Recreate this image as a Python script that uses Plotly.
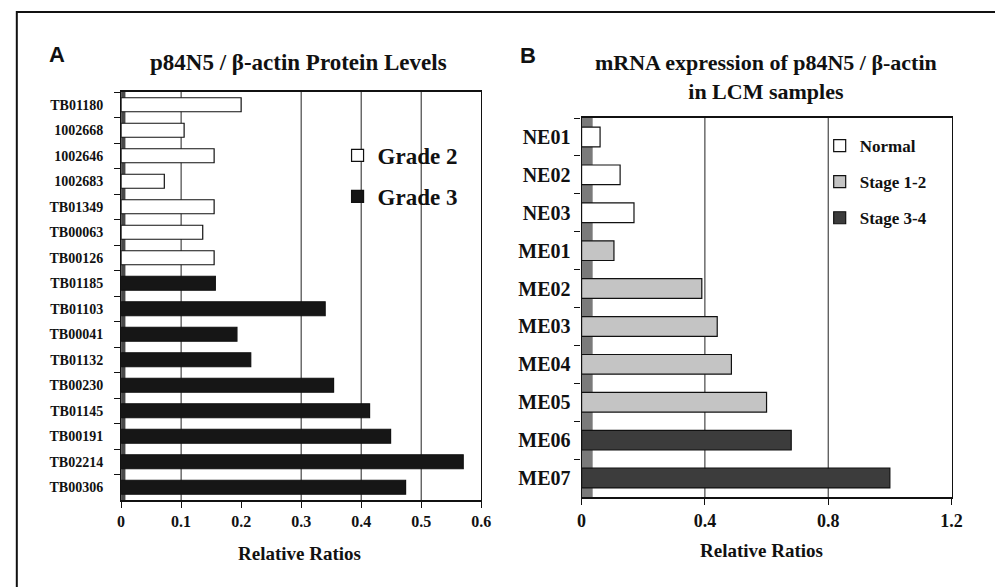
import plotly.graph_objects as go

# ---------------- data ----------------
a_samples = ["TB01180", "1002668", "1002646", "1002683", "TB01349", "TB00063", "TB00126",
             "TB01185", "TB01103", "TB00041", "TB01132", "TB00230", "TB01145", "TB00191",
             "TB02214", "TB00306"]
a_values = [0.20, 0.105, 0.155, 0.072, 0.155, 0.136, 0.155,
            0.157, 0.34, 0.193, 0.216, 0.354, 0.414, 0.449, 0.57, 0.474]
a_groups = ["Grade 2"] * 7 + ["Grade 3"] * 9
a_group_names = ["Grade 2", "Grade 3"]
a_ticks = [0, 0.1, 0.2, 0.3, 0.4, 0.5, 0.6]
a_ticktext = ["0", "0.1", "0.2", "0.3", "0.4", "0.5", "0.6"]
a_grid = [0.1, 0.3, 0.4, 0.5]

b_samples = ["NE01", "NE02", "NE03", "ME01", "ME02", "ME03", "ME04", "ME05", "ME06", "ME07"]
b_values = [0.06, 0.125, 0.17, 0.105, 0.39, 0.44, 0.486, 0.60, 0.68, 1.00]
b_groups = ["Normal"] * 3 + ["Stage 1-2"] * 5 + ["Stage 3-4"] * 2
b_group_names = ["Normal", "Stage 1-2", "Stage 3-4"]
b_ticks = [0, 0.4, 0.8, 1.2]
b_ticktext = ["0", "0.4", "0.8", "1.2"]
b_grid = [0.4, 0.8]

# ---------------- style ----------------
W, H = 995, 587
SERIF = "Liberation Serif, Times New Roman, serif"
SANS = "Liberation Sans, Arial, sans-serif"
INK = "#111111"
a_colors = {"Grade 2": "#ffffff", "Grade 3": "#161616"}
b_colors = {"Normal": "#ffffff", "Stage 1-2": "#c4c4c4", "Stage 3-4": "#3c3c3c"}


def px_x(p):
    return p / W


def px_y(p):
    return 1 - p / H


fig = go.Figure()

for g in a_group_names:
    ys = [s for s, gg in zip(a_samples, a_groups) if gg == g]
    xs = [v for v, gg in zip(a_values, a_groups) if gg == g]
    fig.add_trace(go.Bar(
        x=xs, y=ys, orientation="h", name=g, xaxis="x", yaxis="y",
        width=0.55, legend="legend", legendgroup=g,
        marker=dict(color=a_colors[g], line=dict(color=INK, width=1.2)),
    ))

for g in b_group_names:
    ys = [s for s, gg in zip(b_samples, b_groups) if gg == g]
    xs = [v for v, gg in zip(b_values, b_groups) if gg == g]
    fig.add_trace(go.Bar(
        x=xs, y=ys, orientation="h", name=g, xaxis="x2", yaxis="y2",
        width=0.52, legend="legend2", legendgroup=g,
        marker=dict(color=b_colors[g], line=dict(color=INK, width=1.2)),
    ))

shapes = []
# outer frame (only left/top visible in the reference)
shapes.append(dict(type="rect", xref="paper", yref="paper",
                   x0=px_x(12), x1=1.05, y0=-0.05, y1=px_y(12),
                   line=dict(color=INK, width=2), fillcolor="rgba(0,0,0,0)", layer="below"))
# gridlines
for v in a_grid:
    shapes.append(dict(type="line", xref="x", yref="y domain", x0=v, x1=v, y0=0, y1=1,
                       line=dict(color="#222222", width=1), layer="below"))
for v in b_grid:
    shapes.append(dict(type="line", xref="x2", yref="y2 domain", x0=v, x1=v, y0=0, y1=1,
                       line=dict(color="#222222", width=1), layer="below"))
# side walls (3D look)
shapes.append(dict(type="rect", xref="x domain", yref="y domain", x0=0, x1=0.012, y0=0, y1=1,
                   fillcolor="#4a4a4a", line=dict(width=0), layer="below"))
shapes.append(dict(type="rect", xref="x2 domain", yref="y2 domain", x0=0, x1=0.03, y0=0, y1=1,
                   fillcolor="#7a7a7a", line=dict(width=0), layer="below"))


def ann(text, x, y, family, size, bold=False):
    return dict(text=text, x=px_x(x), y=px_y(y), xref="paper", yref="paper",
                xanchor="center", yanchor="middle", showarrow=False,
                font=dict(family=family, size=size, color=INK,
                          weight="bold" if bold else "normal"))


annotations = [
    ann("A", 53, 55, SANS, 22, True),
    ann("B", 532, 56, SANS, 22, True),
    ann("p84N5 / β-actin Protein Levels", 298, 63, SERIF, 23, True),
    ann("mRNA expression of p84N5 / β-actin<br>in LCM samples", 773, 77, SERIF, 22, True),
    ann("Relative Ratios", 299, 553, SERIF, 19, True),
    ann("Relative Ratios", 769, 550, SERIF, 19, True),
]

axis_common = dict(showline=True, linecolor=INK, mirror=True, zeroline=False,
                   showgrid=False, ticks="outside", tickcolor=INK)

fig.update_layout(
    width=W, height=H,
    margin=dict(l=0, r=0, t=0, b=0),
    paper_bgcolor="white", plot_bgcolor="white",
    barmode="overlay",
    shapes=shapes, annotations=annotations,
    xaxis=dict(domain=[px_x(118), px_x(484)], range=[0, 0.6], anchor="y",
               tickvals=a_ticks, ticktext=a_ticktext,
               ticklen=6, linewidth=2,
               tickfont=dict(family=SERIF, size=16, color=INK, weight="bold"),
               **axis_common),
    yaxis=dict(domain=[px_y(500), px_y(92)], anchor="x", type="category",
               categoryorder="array", categoryarray=a_samples, autorange="reversed",
               tickson="boundaries", ticklen=6, linewidth=1.2, ticklabelstandoff=14,
               tickfont=dict(family=SERIF, size=14, color=INK, weight="bold"),
               **axis_common),
    xaxis2=dict(domain=[px_x(586), px_x(962)], range=[0, 1.2], anchor="y2",
                tickvals=b_ticks, ticktext=b_ticktext,
                ticklen=6, linewidth=2,
                tickfont=dict(family=SERIF, size=18, color=INK, weight="bold"),
                **axis_common),
    yaxis2=dict(domain=[px_y(497), px_y(118)], anchor="x2", type="category",
                categoryorder="array", categoryarray=b_samples, autorange="reversed",
                tickson="boundaries", ticklen=6, linewidth=1.2, ticklabelstandoff=6,
                tickfont=dict(family=SERIF, size=20, color=INK, weight="bold"),
                **axis_common),
    legend=dict(x=px_x(338), y=px_y(134), xanchor="left", yanchor="top",
                bgcolor="rgba(0,0,0,0)", traceorder="grouped", tracegroupgap=8,
                font=dict(family=SERIF, size=23, color=INK, weight="bold")),
    legend2=dict(x=px_x(828), y=px_y(128), xanchor="left", yanchor="top",
                 bgcolor="rgba(0,0,0,0)", traceorder="grouped", tracegroupgap=11,
                 font=dict(family=SERIF, size=17, color=INK, weight="bold")),
)

fig.write_html("out.html", config={"displayModeBar": False},
               post_script="document.body.style.margin='0';")
